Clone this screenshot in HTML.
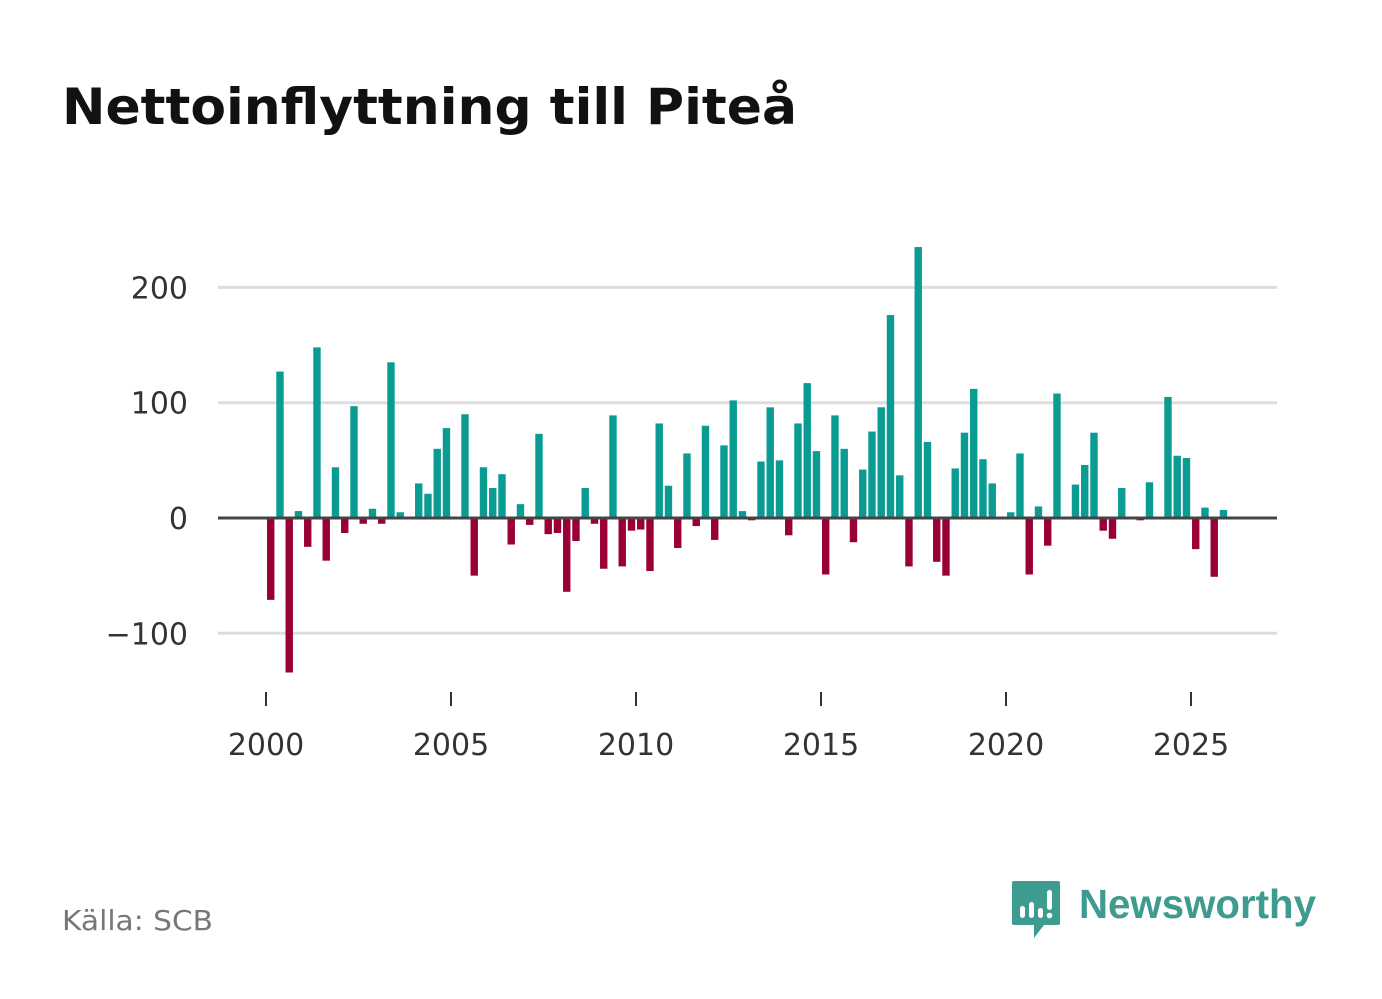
<!DOCTYPE html>
<html><head><meta charset="utf-8">
<style>
body{margin:0;background:#fff;}
svg{display:block;font-family:"DejaVu Sans","Liberation Sans",sans-serif;}
</style></head>
<body>
<svg width="1382" height="999" viewBox="0 0 1382 999" xmlns="http://www.w3.org/2000/svg">
<rect width="1382" height="999" fill="#fff"/>
<text x="62" y="124" font-size="50" font-weight="bold" fill="#111" textLength="735" lengthAdjust="spacingAndGlyphs">Nettoinflyttning till Piteå</text>
<g id="grid"></g>
<g id="bars"></g>
<g id="axes"></g>
<text x="62" y="930" font-size="28" fill="#777" textLength="151" lengthAdjust="spacingAndGlyphs">Källa: SCB</text>
<g>
  <path d="M1014 881 h44 a2 2 0 0 1 2 2 v40 a2 2 0 0 1 -2 2 h-14 l-10 13 v-13 h-20 a2 2 0 0 1 -2 -2 v-40 a2 2 0 0 1 2 -2z" fill="#3d9b8f"/>
  <rect x="1020" y="906" width="5" height="12" rx="2.5" fill="#fff"/>
  <rect x="1029" y="902" width="5" height="16" rx="2.5" fill="#fff"/>
  <rect x="1038" y="908" width="5" height="10" rx="2.5" fill="#fff"/>
  <rect x="1047" y="890" width="5" height="20" rx="2.5" fill="#fff"/>
  <circle cx="1049.5" cy="915.5" r="2.8" fill="#fff"/>
  <text x="1079" y="918" font-size="41" font-weight="bold" fill="#3d9b8f" textLength="237" lengthAdjust="spacingAndGlyphs" font-family="Liberation Sans, sans-serif">Newsworthy</text>
</g>
</svg>
<script>
const values = [-71,127,-134,6,-25,148,-37,44,-13,97,-5,8,-5,135,5,0,
30,21,60,78,0,90,-50,44,26,38,-23,12,-6,73,-14,-13,-64,-20,26,-5,
-44,89,-42,-11,-10,-46,82,28,-26,56,-7,80,-19,63,102,6,-2,49,96,50,
-15,82,117,58,-49,89,60,-21,42,75,96,176,37,-42,235,66,-38,-50,43,74,
112,51,30,0,5,56,-49,10,-24,108,0,29,46,74,-11,-18,26,0,-2,31,
0,105,54,52,-27,9,-51,7];
const startYear = 2000;
const xTicks = [2000,2005,2010,2015,2020,2025];
const yTicks = [-100,0,100,200];
const NS="http://www.w3.org/2000/svg";
const x0=266, pxYear=37, zeroY=518, pxUnit=1.153;
const xScale = t => x0 + (t - startYear)*pxYear;
const yScale = v => zeroY - v*pxUnit;
function mk(tag, attrs, parent){const e=document.createElementNS(NS,tag);for(const k in attrs)e.setAttribute(k,attrs[k]);parent.appendChild(e);return e;}
const grid=document.getElementById('grid'), bars=document.getElementById('bars'), axes=document.getElementById('axes');
yTicks.forEach(v=>{
  if(v!==0){
    const l=mk('line',{x1:218,x2:1277,y1:yScale(v),y2:yScale(v),stroke:'#ddd','stroke-width':3},grid);
    
    
  }
  const t=mk('text',{x:188,y:yScale(v)+11,'text-anchor':'end','font-size':30,fill:'#333'},axes);
  t.textContent = v<0 ? '\u2212'+Math.abs(v) : String(v);
  
  
});
values.forEach((v,i)=>{
  if(v===0) return;
  const cx = xScale(startYear + (i+0.5)/4);
  const y = v>0 ? yScale(v) : zeroY;
  const r=mk('rect',{x:cx-3.6,y:y,width:7.4,height:Math.abs(v)*pxUnit,fill:v>0?'#0a9c93':'#990037'},bars);
  
  
});
const zl=mk('line',{x1:218,x2:1277,y1:zeroY,y2:zeroY,stroke:'#444','stroke-width':3},axes);


xTicks.forEach(t=>{
  const x=xScale(t);
  const tk=mk('line',{x1:x,x2:x,y1:692,y2:706,stroke:'#333','stroke-width':2},axes);
  
  
  const lb=mk('text',{x:x,y:755,'text-anchor':'middle','font-size':30,fill:'#333'},axes);
  lb.textContent=String(t);
  
  
});
</script>
</body></html>
